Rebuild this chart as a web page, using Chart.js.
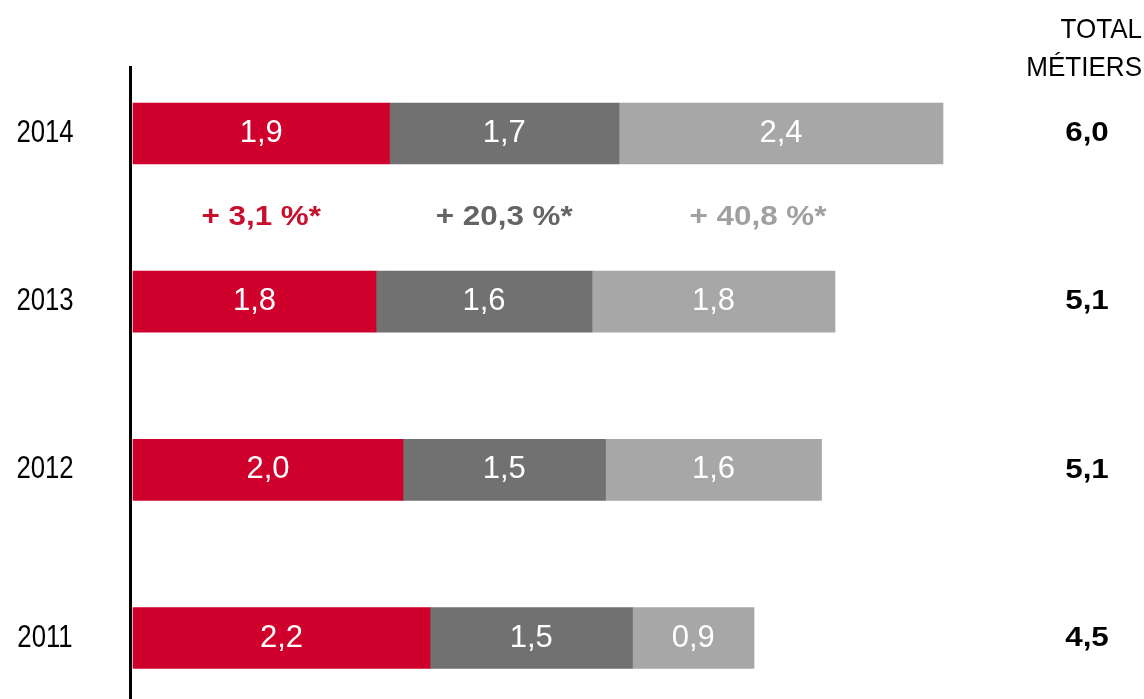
<!DOCTYPE html>
<html>
<head>
<meta charset="utf-8">
<script src="https://cdn.jsdelivr.net/npm/chart.js@4.4.1/dist/chart.umd.min.js"></script>
<style>
  html, body { margin: 0; padding: 0; background: #fff; }
  #wrap { width: 1144px; height: 699px; position: relative; }
</style>
</head>
<body>
<div id="wrap"><canvas id="chart"></canvas></div>
<script>
// Données
const years = ['2014', '2013', '2012', '2011'];
const metier1 = [1.9, 1.8, 2.0, 2.2];
const metier2 = [1.7, 1.6, 1.5, 1.5];
const metier3 = [2.4, 1.8, 1.6, 0.9];
const totals = [6.0, 5.1, 5.1, 4.5];
const growth = [3.1, 20.3, 40.8];

const colors = ['#d0002c', '#717171', '#a7a7a7'];
const growthColors = ['#c8102e', '#646464', '#a0a0a0'];

// Format français
function fr(v) {
    return v.toFixed(1).replace('.', ',');
}

// Texte avec étirement horizontal
function drawText(ctx, text, x, y, font, color, sx, align) {
    ctx.save();
    ctx.translate(x, y);
    ctx.scale(sx, 1);
    ctx.font = font;
    ctx.fillStyle = color;
    ctx.textAlign = align || 'center';
    ctx.textBaseline = 'middle';
    ctx.fillText(text, 0, 0);
    ctx.restore();
}

const labelsPlugin = {
    id: 'labels',
    afterDatasetsDraw(chart) {
        const ctx = chart.ctx;
        const xs = chart.scales.x;
        const ys = chart.scales.y;

        // Axe vertical
        const x0 = xs.getPixelForValue(0);
        ctx.save();
        ctx.strokeStyle = '#000';
        ctx.lineWidth = 3;
        ctx.beginPath();
        ctx.moveTo(x0 - 2.5, 66);
        ctx.lineTo(x0 - 2.5, chart.height);
        ctx.stroke();
        ctx.restore();

        // Valeurs dans les barres
        chart.data.datasets.forEach((ds, i) => {
            const meta = chart.getDatasetMeta(i);
            meta.data.forEach((bar, j) => {
                const cx = (bar.x + bar.base) / 2;
                drawText(ctx, fr(ds.data[j]), cx, bar.y, '31px "Liberation Sans", Arial', '#fff', 1);
            });
        });

        // Années
        years.forEach((y, j) => {
            drawText(ctx, y, 45, ys.getPixelForValue(j), '31px "Liberation Sans", Arial', '#000', 0.83);
        });

        // Totaux
        totals.forEach((t, j) => {
            drawText(ctx, fr(t), 1087, ys.getPixelForValue(j), 'bold 28px "Liberation Sans", Arial', '#000', 1.12);
        });

        // En-tête
        drawText(ctx, 'TOTAL', 1142, 30, '28px "Liberation Sans", Arial', '#000', 0.93, 'right');
        drawText(ctx, 'MÉTIERS', 1142, 68, '28px "Liberation Sans", Arial', '#000', 0.93, 'right');

        // Évolutions
        const gy = (ys.getPixelForValue(0) + ys.getPixelForValue(1)) / 2;
        growth.forEach((g, i) => {
            const bar = chart.getDatasetMeta(i).data[0];
            let cx = (bar.x + bar.base) / 2;
            if (i === 2) cx -= 23;
            drawText(ctx, '+ ' + fr(g) + ' %*', cx, gy, 'bold 28px "Liberation Sans", Arial', growthColors[i], 1.12);
        });
    }
};

const ctx = document.getElementById('chart').getContext('2d');
new Chart(ctx, {
    type: 'bar',
    data: {
        labels: years,
        datasets: [
            { data: metier1, backgroundColor: colors[0] },
            { data: metier2, backgroundColor: colors[1] },
            { data: metier3, backgroundColor: colors[2] }
        ]
    },
    options: {
        indexAxis: 'y',
        responsive: true,
        maintainAspectRatio: false,
        animation: false,
        datasets: {
            bar: { barThickness: 61, clip: false, borderWidth: 0 }
        },
        layout: {
            padding: { left: 133, right: 66, top: 133.5, bottom: 61 }
        },
        scales: {
            x: { stacked: true, display: false, min: 0, max: 7 },
            y: { stacked: true, display: false, offset: false }
        },
        plugins: {
            legend: { display: false },
            tooltip: { enabled: false }
        }
    },
    plugins: [labelsPlugin]
});
</script>
</body>
</html>
